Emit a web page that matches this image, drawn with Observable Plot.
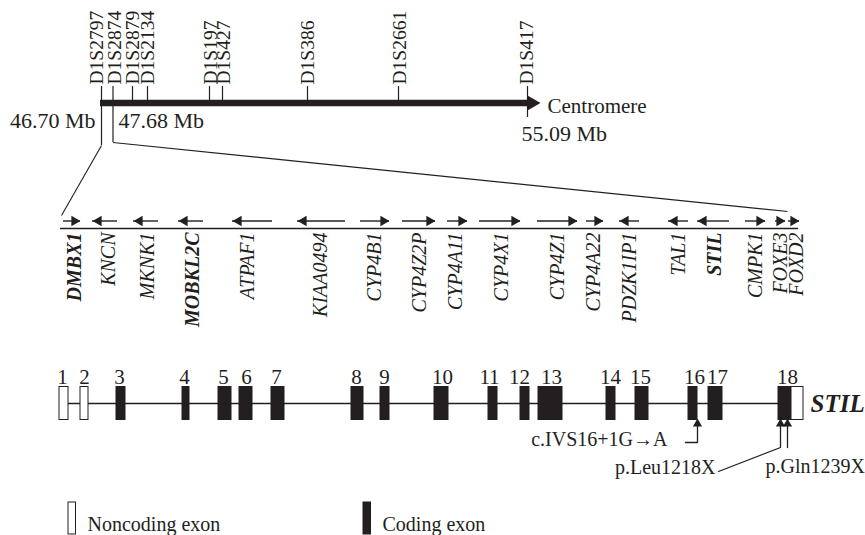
<!DOCTYPE html>
<html><head><meta charset="utf-8">
<script src="https://cdn.jsdelivr.net/npm/d3@7"></script>
<script src="https://cdn.jsdelivr.net/npm/@observablehq/plot@0.6"></script>
<style>body{margin:0;background:#fff} svg{display:block}</style>
</head><body><div id="chart"></div>
<script>
const W = 865, H = 535;
const INK = "#231f20";
const FONT = "Liberation Serif, Times New Roman, Times, serif";

// ---------- Chromosome 1p region: microsatellite markers (schematic map position)
const markerNames    = ["D1S2797","D1S2874","D1S2879","D1S2134","D1S197","D1S427","D1S386","D1S2661","D1S417"];
const markerPos      = [101, 112.5, 132, 147, 209, 222, 307, 398, 527];
const markerLabelPos = [96, 114, 132, 147.5, 210, 223, 307, 399.5, 526.5];
const mbLabels  = ["46.70 Mb", "47.68 Mb", "55.09 Mb"];
const mbPos     = [95, 118, 521];
const mbAnchor  = ["end", "start", "start"];
const mbRow     = [127, 127, 140];
const chromSpan = [{start: 100, end: 530}];
const centromere = [{label: "Centromere", tip: 540}];

// ---------- Genes in the interval (schematic position, strand)
const geneNames  = ["DMBX1","KNCN","MKNK1","MOBKL2C","ATPAF1","KIAA0494","CYP4B1","CYP4Z2P","CYP4A11","CYP4X1","CYP4Z1","CYP4A22","PDZK1IP1","TAL1","STIL","CMPK1","FOXE3","FOXD2"];
const geneStart  = [63, 92, 133, 178, 232, 297, 360, 402, 447, 479, 537, 586, 619, 668, 697, 745, 775, 788];
const geneEnd    = [80, 117, 158, 203, 272, 345, 389, 435, 467, 520, 577, 603, 639, 688, 729, 765, 785, 799];
const geneStrand = ["+","-","-","-","-","-","+","+","+","+","+","+","-","-","-","+","+","+"];
const geneLabelPos = [74.5, 108, 147, 192.5, 247.5, 320.5, 374.5, 419.5, 455, 501, 557.5, 593, 629.5, 678, 714.5, 755.5, 780, 796.5];
const boldGenes  = ["DMBX1", "MOBKL2C", "STIL"];
const geneTrack  = [{start: 60, end: 798}];

// ---------- STIL exon structure (schematic position)
const exonNumbers = ["1","2","3","4","5","6","7","8","9","10","11","12","13","14","15","16","17","18"];
const exonStart   = [59, 80, 116, 182, 218, 239, 271, 351, 380, 434, 488, 520, 538, 606, 635, 688, 708, 778];
const exonEnd     = [68, 88, 125, 189, 231, 252, 284, 363, 389, 448, 497, 529, 562, 615, 648, 697, 722, 803];
const exonCodingEnd = [null, null, 125, 189, 231, 252, 284, 363, 389, 448, 497, 529, 562, 615, 648, 697, 722, 791];
const exonLabelPos = [62, 84, 119, 184, 223, 246, 276, 356, 384, 442, 489, 519, 551, 610, 640, 694, 717, 787];
const intron = [{start: 60, end: 790}];
const geneSymbol = [{name: "STIL", x: 810}];

// ---------- Mutations
const mutationNames = ["c.IVS16+1G\u2192A", "p.Leu1218X", "p.Gln1239X"];
const mutationSite  = [697, 780, 787];
const mutationLabelPos = [667, 715, 765];
const mutationLabelRow = [445, 473, 472];
const mutationAnchor = ["end", "end", "start"];
// leader-line vertices: [x, y] per mutation
const mutationLeaders = [
  [[685, 442], [697, 442], [697, 423]],
  [[718, 471], [780, 447], [780, 423]],
  [[787, 447], [787, 423]]
];

// ---------- Legend
const legendLabels = ["Noncoding exon", "Coding exon"];
const legendFill   = ["white", INK];
const legendPos    = [68, 363];

// ---------- Layout rows (y)
const Y = {markerLabel: 84, tickTop: 86, chrom: 102.5, geneArrow: 220.5, geneLine: 228, geneLabel: 232,
           exonNum: 383, exonTop: 386.5, exonBottom: 419.5, intron: 403, symbol: 411, siteTip: 418,
           legendTop: 502, legendBottom: 534, legendText: 530};

// ---------- Build tables
const markers = markerNames.map((name, i) => ({name, pos: markerPos[i], labelPos: markerLabelPos[i]}));
const markerDrops = [{pos: markerPos[0], bottom: 145}, {pos: markerPos[1], bottom: 142}, {pos: markerPos[8], bottom: 117}];
const zoomLines = [
  {x1: markerPos[0], y1: 145, x2: 61, y2: 215},
  {x1: markerPos[1], y1: 142, x2: 787, y2: 211}
];
const mb = mbLabels.map((t, i) => ({t, x: mbPos[i], y: mbRow[i], a: mbAnchor[i]}));
const genes = geneNames.map((name, i) => ({name, start: geneStart[i], end: geneEnd[i], strand: geneStrand[i], labelPos: geneLabelPos[i], bold: boldGenes.includes(name)}));
const exonRects = [];
exonNumbers.forEach((n, i) => {
  const ce = exonCodingEnd[i];
  if (ce == null) exonRects.push({x1: exonStart[i], x2: exonEnd[i], coding: false});
  else {
    exonRects.push({x1: exonStart[i], x2: ce, coding: true});
    if (ce < exonEnd[i]) exonRects.push({x1: ce, x2: exonEnd[i], coding: false});
  }
});
const exons = exonNumbers.map((n, i) => ({n, mid: exonLabelPos[i]}));
const mutations = mutationNames.map((name, i) => ({name, site: mutationSite[i], labelPos: mutationLabelPos[i], row: mutationLabelRow[i], anchor: mutationAnchor[i]}));
const leaderPts = mutationLeaders.flatMap((pts, k) => pts.map(([x, y]) => ({k, x, y})));
const legend = legendLabels.map((label, i) => ({label, fill: legendFill[i], x: legendPos[i]}));

const headR = 3.9, headOff = 6.1;   // gene arrowheads
const mutR = 3.4, mutOff = 5.3;

const plot = Plot.plot({
  width: W, height: H, margin: 0,
  x: {domain: [0, W], range: [0, W], axis: null},
  y: {domain: [0, H], range: [0, H], axis: null},
  style: {fontFamily: FONT, background: "white", color: INK},
  marks: [
    // chromosome
    Plot.ruleX(markers, {x: "pos", y1: Y.tickTop, y2: Y.chrom, stroke: INK, strokeWidth: 1.2}),
    Plot.ruleX(markerDrops, {x: "pos", y1: Y.chrom, y2: "bottom", stroke: INK, strokeWidth: 1.2}),
    Plot.ruleY(chromSpan, {y: Y.chrom, x1: "start", x2: "end", stroke: INK, strokeWidth: 6.5}),
    Plot.dot(centromere, {x: "tip", y: Y.chrom, symbol: "triangle", r: 5.6, rotate: 90, dx: -8.7, fill: INK, stroke: "none"}),
    Plot.text(centromere, {x: "tip", y: Y.chrom, text: "label", dx: 7, dy: 9.5, lineAnchor: "bottom", textAnchor: "start", fontSize: 21, fontFamily: FONT}),
    Plot.text(markers, {x: "labelPos", y: Y.markerLabel, text: "name", rotate: -90, textAnchor: "start", lineAnchor: "middle", fontSize: 19.5, fontFamily: FONT}),
    Plot.text(mb.filter(d => d.a === "end"), {x: "x", y: "y", text: "t", textAnchor: "end", lineAnchor: "bottom", fontSize: 22, fontFamily: FONT}),
    Plot.text(mb.filter(d => d.a === "start"), {x: "x", y: "y", text: "t", textAnchor: "start", lineAnchor: "bottom", fontSize: 22, fontFamily: FONT}),
    // zoom lines
    Plot.link(zoomLines, {x1: "x1", y1: "y1", x2: "x2", y2: "y2", stroke: INK, strokeWidth: 1.1}),
    // gene track
    Plot.ruleY(geneTrack, {y: Y.geneLine, x1: "start", x2: "end", stroke: INK, strokeWidth: 1.4}),
    Plot.ruleY(genes, {y: Y.geneArrow, x1: "start", x2: "end", stroke: INK, strokeWidth: 1.4}),
    Plot.dot(genes.filter(d => d.strand === "+"), {x: "end", y: Y.geneArrow, symbol: "triangle", r: headR, rotate: 90, dx: -headOff, fill: INK, stroke: "none"}),
    Plot.dot(genes.filter(d => d.strand === "-"), {x: "start", y: Y.geneArrow, symbol: "triangle", r: headR, rotate: -90, dx: headOff, fill: INK, stroke: "none"}),
    Plot.text(genes.filter(d => !d.bold), {x: "labelPos", y: Y.geneLabel, text: "name", rotate: -90, textAnchor: "end", lineAnchor: "middle", fontSize: 20, fontStyle: "italic", fontFamily: FONT}),
    Plot.text(genes.filter(d => d.bold), {x: "labelPos", y: Y.geneLabel, text: "name", rotate: -90, textAnchor: "end", lineAnchor: "middle", fontSize: 20, fontStyle: "italic", fontWeight: "bold", fontFamily: FONT}),
    // exon structure
    Plot.ruleY(intron, {y: Y.intron, x1: "start", x2: "end", stroke: INK, strokeWidth: 1.4}),
    Plot.rect(exonRects, {x1: "x1", x2: "x2", y1: Y.exonTop, y2: Y.exonBottom, fill: d => d.coding ? INK : "white", stroke: INK, strokeWidth: 1}),
    Plot.text(exons, {x: "mid", y: Y.exonNum, text: "n", lineAnchor: "bottom", fontSize: 21, fontFamily: FONT}),
    Plot.text(geneSymbol, {x: "x", y: Y.symbol, text: "name", textAnchor: "start", lineAnchor: "bottom", fontSize: 25, fontStyle: "italic", fontWeight: "bold", fontFamily: FONT}),
    // mutations
    Plot.line(leaderPts, {x: "x", y: "y", z: "k", stroke: INK, strokeWidth: 1.3}),
    Plot.dot(mutations, {x: "site", y: Y.siteTip, symbol: "triangle", r: mutR, dy: mutOff, fill: INK, stroke: "none"}),
    Plot.text(mutations.filter(d => d.anchor === "end"), {x: "labelPos", y: "row", text: "name", textAnchor: "end", lineAnchor: "bottom", fontSize: 20, fontFamily: FONT}),
    Plot.text(mutations.filter(d => d.anchor === "start"), {x: "labelPos", y: "row", text: "name", textAnchor: "start", lineAnchor: "bottom", fontSize: 20, fontFamily: FONT}),
    // legend
    Plot.rect(legend, {x1: "x", x2: d => d.x + 7.5, y1: Y.legendTop, y2: Y.legendBottom, fill: "fill", stroke: INK, strokeWidth: 1}),
    Plot.text(legend, {x: d => d.x + 19, y: Y.legendText, text: "label", textAnchor: "start", lineAnchor: "bottom", fontSize: 20, fontFamily: FONT})
  ]
});
document.getElementById("chart").appendChild(plot);
</script>
</body></html>
